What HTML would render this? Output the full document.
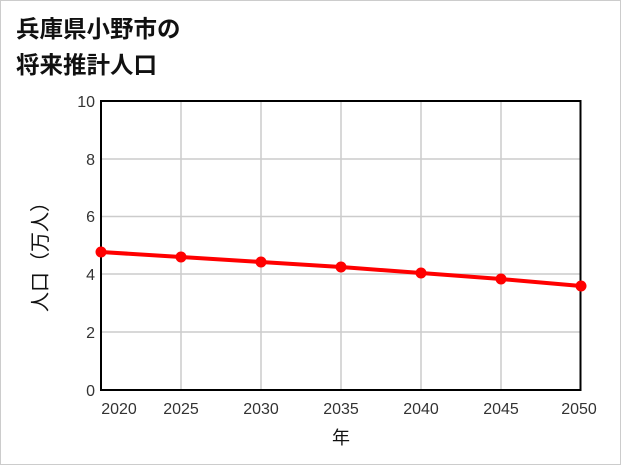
<!DOCTYPE html>
<html><head><meta charset="utf-8"><style>
html,body{margin:0;padding:0;background:#fff;}
svg{display:block;}
</style></head><body>
<svg width="621" height="465" xmlns="http://www.w3.org/2000/svg" font-family="'Liberation Sans','Noto Sans CJK JP',sans-serif">
<rect x="0.5" y="0.5" width="620" height="464" fill="#fff" stroke="#ccc"/>
<text x="16" y="37" font-size="23.5" font-weight="bold" fill="#111">兵庫県小野市の</text>
<text x="16" y="73" font-size="23.5" font-weight="bold" fill="#111">将来推計人口</text>
<g stroke="#ccc" stroke-width="1.5">
<line x1="181" y1="101" x2="181" y2="390"/><line x1="261" y1="101" x2="261" y2="390"/>
<line x1="341" y1="101" x2="341" y2="390"/><line x1="421" y1="101" x2="421" y2="390"/>
<line x1="501" y1="101" x2="501" y2="390"/>
<line x1="101" y1="159" x2="581" y2="159"/><line x1="101" y1="216.5" x2="581" y2="216.5"/>
<line x1="101" y1="274" x2="581" y2="274"/><line x1="101" y1="332" x2="581" y2="332"/>
</g>
<rect x="101" y="101" width="479.5" height="289" fill="none" stroke="#000" stroke-width="2"/>
<g font-size="16" fill="#333" text-anchor="end">
<text x="95" y="107">10</text><text x="95" y="165">8</text><text x="95" y="222">6</text>
<text x="95" y="280">4</text><text x="95" y="338">2</text><text x="95" y="396">0</text>
</g>
<g font-size="16" fill="#333" text-anchor="middle">
<text x="119" y="414">2020</text><text x="181" y="414">2025</text><text x="261" y="414">2030</text>
<text x="341" y="414">2035</text><text x="421" y="414">2040</text><text x="501" y="414">2045</text>
<text x="579" y="414">2050</text>
</g>
<text x="341" y="444" font-size="18" fill="#111" text-anchor="middle">年</text>
<text transform="translate(47,252) rotate(-90)" font-size="20" fill="#111" text-anchor="middle">人口（万人）</text>
<polyline points="101,252 181,257 261,262 341,267 421,273 501,279 581,286" fill="none" stroke="#f00" stroke-width="4"/>
<g fill="#f00">
<circle cx="101" cy="252" r="5.5"/><circle cx="181" cy="257" r="5.5"/><circle cx="261" cy="262" r="5.5"/>
<circle cx="341" cy="267" r="5.5"/><circle cx="421" cy="273" r="5.5"/><circle cx="501" cy="279" r="5.5"/>
<circle cx="581" cy="286" r="5.5"/>
</g>
</svg>
</body></html>
